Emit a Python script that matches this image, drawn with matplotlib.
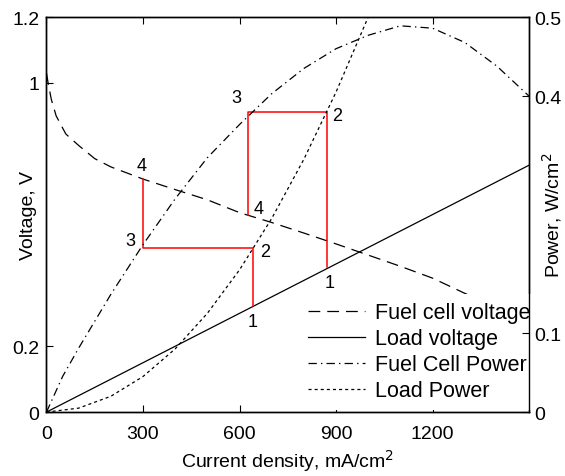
import matplotlib
matplotlib.use("Agg")
import matplotlib.pyplot as plt

plt.rcParams['font.family'] = ['Liberation Sans', 'DejaVu Sans']
plt.rcParams['lines.scale_dashes'] = False

# ---- data ----
# fuel cell polarisation curve (left axis)
fc_current = [0, 5, 15, 30, 60, 100, 150, 200, 300, 400, 500, 600, 700,
              800, 900, 1000, 1100, 1200, 1300, 1400, 1500]
fc_voltage = [1.03, 1.00, 0.95, 0.90, 0.845, 0.81, 0.77, 0.745, 0.708, 0.676,
              0.645, 0.606, 0.576, 0.544, 0.511, 0.477, 0.443, 0.407, 0.361,
              0.318, 0.267]

# load line (left axis)
load_current = [0, 1500]
load_voltage = [0, 0.75]

# fuel cell power (right axis)
fcp_current = [0, 50, 100, 200, 300, 400, 500, 600, 700, 800, 900, 1000,
               1100, 1200, 1300, 1400, 1500]
fcp_power = [0, 0.045, 0.081, 0.149, 0.212, 0.270, 0.322, 0.364, 0.403,
             0.435, 0.460, 0.477, 0.489, 0.486, 0.468, 0.438, 0.400]

# load power (right axis)
lp_current = [0, 100, 200, 300, 400, 500, 600, 700, 800, 900, 1000]
lp_power = [0, 0.005, 0.02, 0.045, 0.08, 0.125, 0.18, 0.245, 0.32, 0.405, 0.50]

# red cycles, in left-axis units
cycle_a_x = [300, 300, 642, 642]
cycle_a_y = [0.708, 0.498, 0.498, 0.322]
cycle_b_x = [626, 626, 872, 872]
cycle_b_y = [0.599, 0.912, 0.912, 0.441]

# point numbers (label, x, y)
point_labels = [
    ("4", 295, 0.750), ("3", 262, 0.52), ("2", 680, 0.488), ("1", 642, 0.275),
    ("3", 590, 0.955), ("4", 660, 0.62), ("2", 905, 0.90), ("1", 880, 0.395),
]

fig = plt.figure(figsize=(5.65, 4.77), dpi=100)
ax = fig.add_axes([0.0823, 0.134, 0.8540, 0.828])
ax2 = ax.twinx()

l1, = ax.plot(fc_current, fc_voltage, color='black', lw=0.9,
              linestyle=(0, (8.5, 5)))
l2, = ax.plot(load_current, load_voltage, color='black', lw=0.9)
l3, = ax2.plot(fcp_current, fcp_power, color='black', lw=0.9,
               linestyle=(0, (6, 3, 1, 3)))
l4, = ax2.plot(lp_current, lp_power, color='black', lw=0.9,
               linestyle=(0, (2.2, 2.2)))

ax.plot(cycle_a_x, cycle_a_y, color='red', lw=1.1)
ax.plot(cycle_b_x, cycle_b_y, color='red', lw=1.1)
for lab, x, y in point_labels:
    ax.text(x, y, lab, fontsize=13, ha='center', va='center')

ax.set_xlim(0, 1500)
ax.set_ylim(0, 1.2)
ax2.set_ylim(0, 0.5)

ax.set_xticks([0, 300, 600, 900, 1200])
ax.set_yticks([0, 0.2, 1, 1.2])
ax.set_yticklabels(['0', '0.2', '1', '1.2'])
ax2.set_yticks([0, 0.1, 0.4, 0.5])
ax2.set_yticklabels(['0', '0.1', '0.4', '0.5'])

ax.tick_params(axis='x', direction='in', top=True, length=5, labelsize=14, pad=9)
ax.tick_params(axis='y', direction='in', length=5, labelsize=14, pad=5)
ax2.tick_params(axis='y', direction='in', length=5, labelsize=14, pad=4)

ax.set_xlabel('Current density, mA/cm$^2$', fontsize=14, labelpad=4)
ax.set_ylabel('Voltage, V', fontsize=14)
ax2.set_ylabel('Power, W/cm$^2$', fontsize=14)
ax.yaxis.set_label_coords(-0.020, 0.5)
ax2.yaxis.set_label_coords(1.023, 0.5)

for a in (ax, ax2):
    for s in a.spines.values():
        s.set_linewidth(1.0)
# keep the right spine and its tick labels above the white legend box
ax2.spines['right'].set_zorder(6)
ax2.yaxis.set_zorder(6)

leg = ax2.legend([l1, l2, l3, l4],
                 ['Fuel cell voltage', 'Load voltage', 'Fuel Cell Power', 'Load Power'],
                 loc='lower right', bbox_to_anchor=(1.02, 0.006), fontsize=15.5,
                 frameon=True, handlelength=2.65, handletextpad=0.45,
                 labelspacing=0.23, borderpad=0.4, borderaxespad=0.0)
leg.get_frame().set_edgecolor('none')
leg.get_frame().set_facecolor('white')
leg.get_frame().set_alpha(1.0)

fig.savefig('out.png', dpi=100)
